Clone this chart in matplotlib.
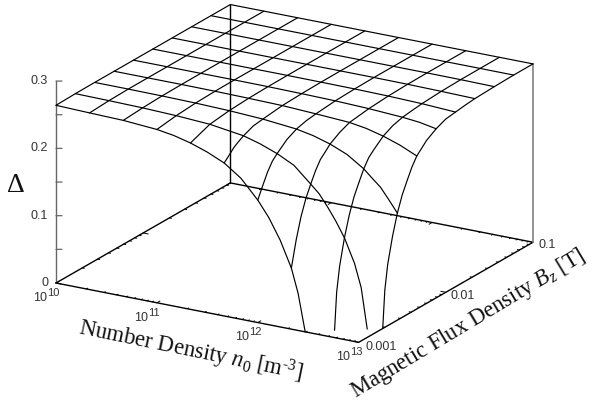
import matplotlib
matplotlib.use("Agg")
import matplotlib.pyplot as plt
from mpl_toolkits.mplot3d import proj3d

plt.rcParams['mathtext.fontset'] = 'custom'
plt.rcParams['mathtext.rm'] = 'Liberation Serif'
plt.rcParams['mathtext.it'] = 'Liberation Serif:italic'
plt.rcParams['mathtext.bf'] = 'Liberation Serif:bold'

# ---- data (log10 n0, log10 Bz, Delta) ----
N_GRID = [10.0, 10.333, 10.667, 11.0, 11.333, 11.667, 12.0, 12.333, 12.667, 13.0]
B_GRID = [-3.0, -2.778, -2.556, -2.333, -2.111, -1.889, -1.667, -1.444, -1.222, -1.0]

# lines of constant Bz: position along n0, Delta
B0_N = [10.0, 10.333, 10.667, 11.0, 11.167, 11.333, 11.5, 11.667, 11.833, 12.0, 12.11, 12.222, 12.333, 12.4, 12.47]
B0_Z = [.264, .2625, .2612, .2575, .2535, .2472, .2385, .2273, .2095, .182, .159, .129, .0907, .055, 0]
B1_N = [10.0, 10.333, 10.667, 11.0, 11.333, 11.667, 11.833, 12.0, 12.167, 12.333, 12.417, 12.5, 12.583, 12.667, 12.767, 12.833, 12.893]
B1_Z = [.2648, .2642, .2633, .2615, .2585, .2512, .244, .2345, .222, .199, .187, .170, .151, .129, .094, .060, 0]
B2_N = [10.0, 10.333, 10.667, 11.0, 11.333, 11.667, 12.0, 12.167, 12.333, 12.5, 12.667, 12.75, 12.833, 12.917, 13.0]
B2_Z = [.265, .2649, .2645, .2637, .2622, .2595, .2545, .2495, .242, .2315, .215, .2035, .1925, .176, .159]
B3_N = [10.0, 10.333, 10.667, 11.0, 11.333, 11.667, 12.0, 12.333, 12.5, 12.667, 12.833, 13.0]
B3_Z = [.265, .265, .265, .2647, .264, .263, .2605, .2575, .2535, .247, .2385, .2273]
B4_N = [10.0, 10.333, 10.667, 11.0, 11.333, 11.667, 12.0, 12.333, 12.667, 12.833, 13.0]
B4_Z = [.265, .265, .265, .265, .2648, .2642, .2633, .2615, .2585, .256, .2512]
B5_Z = [.265, .265, .265, .265, .265, .2648, .2645, .2637, .2622, .2595]
B6_Z = [.265, .265, .265, .265, .265, .265, .265, .2647, .264, .263]
B7_Z = [.265, .265, .265, .265, .265, .265, .265, .265, .2648, .2642]
B8_Z = [.265, .265, .265, .265, .265, .265, .265, .265, .265, .2649]
B9_Z = [.265, .265, .265, .265, .265, .265, .265, .265, .265, .265]

# lines of constant n0: position along Bz, Delta
N0_Z = [.264, .2648, .265, .265, .265, .265, .265, .265, .265, .265]
N1_Z = [.2625, .2642, .2649, .265, .265, .265, .265, .265, .265, .265]
N2_Z = [.2612, .2633, .2645, .2649, .265, .265, .265, .265, .265, .265]
N3_Z = [.2575, .2615, .2637, .2647, .265, .265, .265, .265, .265, .265]
N4_Z = [.2472, .2585, .2622, .264, .2648, .265, .265, .265, .265, .265]
N5_B = [-3.0, -2.944, -2.889, -2.833, -2.778, -2.667, -2.556, -2.333, -2.111, -1.889, -1.667, -1.444, -1.222, -1.0]
N5_Z = [.2273, .2345, .242, .247, .2512, .2575, .2595, .263, .2642, .2648, .265, .265, .265, .265]
N6_B = [-3.0, -2.944, -2.889, -2.833, -2.778, -2.667, -2.556, -2.444, -2.333, -2.111, -1.889, -1.667, -1.444, -1.222, -1.0]
N6_Z = [.182, .199, .215, .2273, .2345, .247, .2545, .2585, .2605, .2633, .2645, .265, .265, .265, .265]
N7_B = [-3.0, -2.944, -2.889, -2.833, -2.778, -2.722, -2.667, -2.611, -2.556, -2.444, -2.333, -2.222, -2.111, -1.889, -1.667, -1.444, -1.222, -1.0]
N7_Z = [.0907, .129, .159, .182, .199, .215, .2273, .2345, .242, .2512, .2575, .2595, .2615, .2637, .2647, .265, .265, .265]
N8_B = [-2.891, -2.867, -2.833, -2.778, -2.722, -2.667, -2.611, -2.556, -2.5, -2.444, -2.333, -2.222, -2.111, -2.0, -1.889, -1.667, -1.444, -1.222, -1.0]
N8_Z = [0, .055, .091, .129, .159, .182, .199, .215, .2273, .2345, .247, .2545, .2585, .2605, .2622, .264, .2648, .265, .265]
N9_B = [-2.724, -2.7, -2.667, -2.611, -2.556, -2.5, -2.444, -2.389, -2.333, -2.278, -2.222, -2.111, -2.0, -1.889, -1.778, -1.667, -1.444, -1.222, -1.0]
N9_Z = [0, .055, .091, .129, .159, .182, .199, .215, .2273, .2345, .242, .2512, .2575, .2595, .2615, .263, .2642, .2649, .265]

Z_MAJOR = [0.1, 0.2, 0.3]
Z_MINOR = [0.05, 0.15, 0.25]
N_MAJOR = [10, 11, 12, 13]
B_MAJOR = [-3, -2, -1]
LOG_MINOR = [0.301, 0.477, 0.602, 0.699, 0.778, 0.845, 0.903, 0.954]

Z_LABELS = ["0", "0.1", "0.2", "0.3"]
N_BASES = ["10", "10", "10", "10"]
N_EXPONENTS = ["10", "11", "12", "13"]
B_LABELS = ["0.001", "0.01", "0.1"]

W, H = 596, 403
fig = plt.figure(figsize=(W / 100, H / 100), dpi=100, facecolor='white')
rect = [-0.3, -0.3, 1.6, 1.6]
ax = fig.add_axes(rect, projection='3d')
ax.set_proj_type('ortho')
ax.view_init(elev=19.6, azim=-59.7, roll=0)
ax.set_xlim(10, 13, view_margin=0)
ax.set_ylim(-3, -1, view_margin=0)
ax.set_zlim(0, 0.3, view_margin=0)
ax.set_axis_off()
ASPECT = (350, 345, 214)


def pix(x, y, z):
    xs, ys, _ = proj3d.proj_transform(x, y, z, ax.get_proj())
    return ax.transData.transform((xs, ys))


# fit the box on the figure: left corner and right corner of the floor
zoom = 1.0
for _ in range(3):
    ax.set_box_aspect(ASPECT, zoom=zoom)
    fig.canvas.draw()
    a = pix(10, -3, 0)
    b = pix(13, -1, 0)
    zoom *= (533 - 56) / (b[0] - a[0])
ax.set_box_aspect(ASPECT, zoom=zoom)
fig.canvas.draw()
a = pix(10, -3, 0)
rect[0] += (56 - a[0]) / W
rect[1] += ((H - 283) - a[1]) / H
ax.set_position(rect)
fig.canvas.draw()

LW = 0.85


def line(xs, ys, zs, color='black', lw=LW):
    ax.plot(xs, ys, zs, color=color, lw=lw, clip_on=False, solid_capstyle='round')


# floor
line([10, 13, 13, 10, 10], [-3, -3, -1, -1, -3], [0, 0, 0, 0, 0], lw=1.0)
# verticals
line([10, 10], [-3, -3], [0, 0.3], color='#666666', lw=1.0)
line([10, 10], [-1, -1], [0, 0.265], lw=1.0)
line([13, 13], [-1, -1], [0, 0.265], color='#808080', lw=1.2)

# z ticks (horizontal on the page)
for v in Z_MAJOR + Z_MINOR:
    line([10, 10.044], [-3, -2.9826], [v, v], color='#666666', lw=0.9)

# floor ticks, on both opposite edges
for d in N_MAJOR[:-1]:
    line([d, d], [-3, -2.965], [0, 0], lw=0.7)
    line([d, d], [-1, -1.035], [0, 0], lw=0.7)
    for m in LOG_MINOR:
        line([d + m, d + m], [-3, -2.985], [0, 0], lw=0.7)
        line([d + m, d + m], [-1, -1.015], [0, 0], lw=0.7)
for d in B_MAJOR[:-1]:
    line([13, 12.95], [d, d], [0, 0], lw=0.7)
    line([10, 10.05], [d, d], [0, 0], lw=0.7)
    for m in LOG_MINOR:
        line([13, 12.98], [d + m, d + m], [0, 0], lw=0.7)
        line([10, 10.02], [d + m, d + m], [0, 0], lw=0.7)

# surface wires
for bv, ns, zs in [(B_GRID[0], B0_N, B0_Z), (B_GRID[1], B1_N, B1_Z), (B_GRID[2], B2_N, B2_Z),
                   (B_GRID[3], B3_N, B3_Z), (B_GRID[4], B4_N, B4_Z), (B_GRID[5], N_GRID, B5_Z),
                   (B_GRID[6], N_GRID, B6_Z), (B_GRID[7], N_GRID, B7_Z), (B_GRID[8], N_GRID, B8_Z),
                   (B_GRID[9], N_GRID, B9_Z)]:
    line(ns, [bv] * len(ns), zs)
for nv, bs, zs in [(N_GRID[0], B_GRID, N0_Z), (N_GRID[1], B_GRID, N1_Z), (N_GRID[2], B_GRID, N2_Z),
                   (N_GRID[3], B_GRID, N3_Z), (N_GRID[4], B_GRID, N4_Z), (N_GRID[5], N5_B, N5_Z),
                   (N_GRID[6], N6_B, N6_Z), (N_GRID[7], N7_B, N7_Z), (N_GRID[8], N8_B, N8_Z),
                   (N_GRID[9], N9_B, N9_Z)]:
    line([nv] * len(bs), bs, zs)


def T(px, py, s, **kw):
    fig.text(px / W, 1 - py / H, s, **kw)


tick = dict(family='Liberation Sans', color='#333333', va='center')
for px, py, s in zip([48, 48, 48, 48], [283, 216, 148, 81], Z_LABELS):
    T(px, py, s, ha='right', fontsize=9, **tick)
for px, py, b, e in zip([47, 148, 249, 350], [298, 318, 337, 357], N_BASES, N_EXPONENTS):
    T(px, py, b, ha='right', fontsize=9, **tick)
    T(px, py - 5, e, ha='left', fontsize=8, **tick)
for px, py, s in zip([381, 462.5, 547.5], [346.5, 296, 245], B_LABELS):
    T(px, py, s, ha='center', fontsize=9, **tick)

serif = dict(family='Liberation Serif', color='#111111', ha='center', va='center', rotation_mode='anchor')
T(16, 185, "\u0394", fontsize=20, **serif)
T(191, 351.3, r"Number Density $\mathit{n_0}$ [m$^{\text{-3}}$]", fontsize=16.3, rotation=-11.6, **serif)
T(468, 324, r"Magnetic Flux Density $\mathit{B_z}$ [T]", fontsize=16.3, rotation=31, **serif)

fig.savefig("out.png", dpi=100, facecolor='white')
